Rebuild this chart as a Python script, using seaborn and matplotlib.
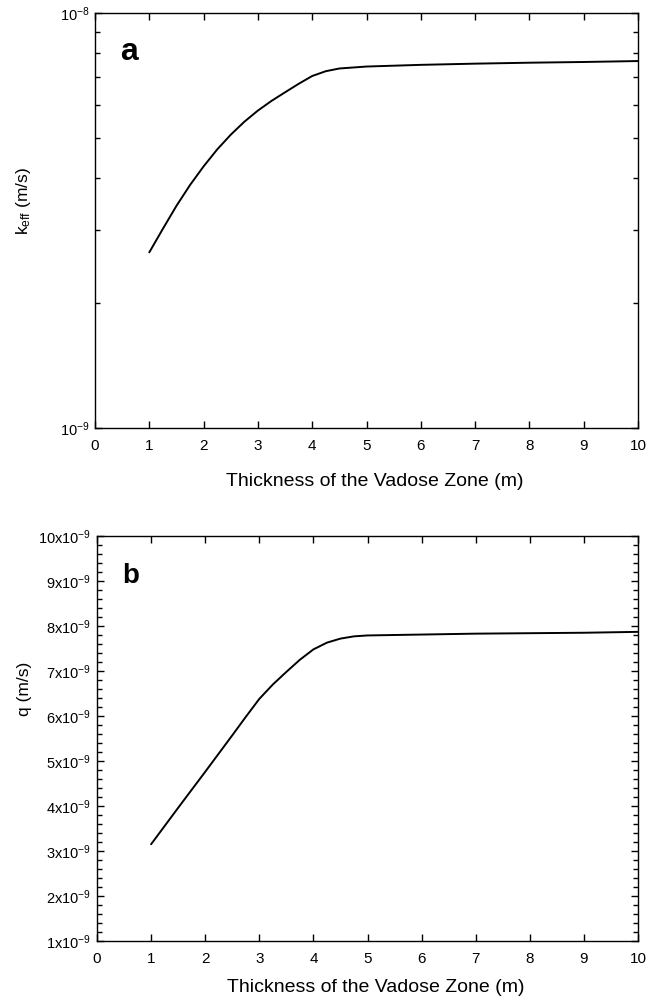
import numpy as np
import pandas as pd
import matplotlib
matplotlib.use("Agg")
import matplotlib.pyplot as plt
import seaborn as sns
from matplotlib.ticker import FixedLocator, FixedFormatter, NullFormatter, MultipleLocator

# ---------------- data ----------------
thickness_a = [1, 1.25, 1.5, 1.75, 2, 2.25, 2.5, 2.75, 3, 3.25, 3.5, 3.75, 4,
               4.25, 4.5, 5, 6, 7, 8, 9, 10]
k_eff = [2.65e-9, 3.02e-9, 3.43e-9, 3.85e-9, 4.27e-9, 4.69e-9, 5.09e-9, 5.47e-9,
         5.82e-9, 6.14e-9, 6.44e-9, 6.75e-9, 7.05e-9, 7.24e-9, 7.35e-9, 7.43e-9,
         7.50e-9, 7.55e-9, 7.59e-9, 7.62e-9, 7.66e-9]

thickness_b = [1, 1.5, 2, 2.5, 2.75, 3, 3.25, 3.5, 3.75, 4, 4.25, 4.5, 4.75, 5,
               6, 7, 8, 9, 10]
q_flux = [3.15e-9, 3.96e-9, 4.76e-9, 5.57e-9, 5.98e-9, 6.38e-9, 6.70e-9, 6.98e-9,
          7.25e-9, 7.48e-9, 7.63e-9, 7.72e-9, 7.77e-9, 7.79e-9, 7.81e-9, 7.83e-9,
          7.84e-9, 7.85e-9, 7.87e-9]

x_ticks = [0, 1, 2, 3, 4, 5, 6, 7, 8, 9, 10]
x_tick_labels = ["0", "1", "2", "3", "4", "5", "6", "7", "8", "9", "10"]

a_yticks = [1e-9, 1e-8]
a_ytick_labels = ["10$^{-9}$", "10$^{-8}$"]
a_yminor = [2e-9, 3e-9, 4e-9, 5e-9, 6e-9, 7e-9, 8e-9, 9e-9]

b_yticks = [1e-9, 2e-9, 3e-9, 4e-9, 5e-9, 6e-9, 7e-9, 8e-9, 9e-9, 10e-9]
b_ytick_labels = ["1x10$^{-9}$", "2x10$^{-9}$", "3x10$^{-9}$", "4x10$^{-9}$", "5x10$^{-9}$",
                  "6x10$^{-9}$", "7x10$^{-9}$", "8x10$^{-9}$", "9x10$^{-9}$", "10x10$^{-9}$"]

xlabel = "Thickness of the Vadose Zone (m)"
ylabel_a = "k$_{\\mathrm{eff}}$ (m/s)"
ylabel_b = "q (m/s)"

df_a = pd.DataFrame({"thickness": thickness_a, "k": k_eff})
df_b = pd.DataFrame({"thickness": thickness_b, "q": q_flux})

# ---------------- style ----------------
sns.set_theme(style="ticks")
plt.rcParams["font.family"] = ["Liberation Sans", "DejaVu Sans"]
plt.rcParams["mathtext.fontset"] = "custom"
plt.rcParams["mathtext.rm"] = "Liberation Sans"
plt.rcParams["mathtext.it"] = "Liberation Sans:italic"
plt.rcParams["mathtext.bf"] = "Liberation Sans:bold"
plt.rcParams["mathtext.default"] = "regular"
for key in ["text.color", "axes.labelcolor", "xtick.color", "ytick.color", "axes.edgecolor"]:
    plt.rcParams[key] = "black"

fig = plt.figure(figsize=(6.59, 10), dpi=100)
ax_a = fig.add_axes([95 / 659, 1 - 428 / 1000, (638 - 95) / 659, (428 - 13) / 1000])
ax_b = fig.add_axes([97 / 659, 1 - 941 / 1000, (638 - 97) / 659, (941 - 536) / 1000])

sns.lineplot(data=df_a, x="thickness", y="k", ax=ax_a, color="black", linewidth=1.4)
sns.lineplot(data=df_b, x="thickness", y="q", ax=ax_b, color="black", linewidth=1.4)


def style_axes(ax):
    ax.set_xlim(0, 10)
    ax.xaxis.set_major_locator(FixedLocator(x_ticks))
    ax.xaxis.set_major_formatter(FixedFormatter(x_tick_labels))
    for s in ax.spines.values():
        s.set_visible(True)
        s.set_linewidth(1.0)
        s.set_color("black")
    ax.tick_params(which="both", direction="in", top=True, right=True,
                   color="black", width=1.0, labelcolor="black")
    ax.tick_params(which="major", length=5)
    ax.tick_params(which="minor", length=3.5)
    ax.tick_params(axis="x", which="major", labelsize=11, pad=8)
    ax.tick_params(axis="y", which="major", labelsize=10.5, pad=4)
    ax.set_xlabel(xlabel, fontsize=14, color="black")
    ax.grid(False)


# panel a
ax_a.set_yscale("log")
ax_a.set_ylim(1e-9, 1e-8)
ax_a.yaxis.set_major_locator(FixedLocator(a_yticks))
ax_a.yaxis.set_major_formatter(FixedFormatter(a_ytick_labels))
ax_a.yaxis.set_minor_locator(FixedLocator(a_yminor))
ax_a.yaxis.set_minor_formatter(NullFormatter())
style_axes(ax_a)
ax_a.set_ylabel(ylabel_a, fontsize=12.5, color="black")
ax_a.yaxis.set_label_coords(-0.115, 0.547)
ax_a.xaxis.set_label_coords(0.515, -0.108)
ax_a.text(0.046, 0.887, "a", transform=ax_a.transAxes, fontsize=23,
          fontweight="bold", va="baseline", ha="left", color="black")

# panel b
ax_b.set_ylim(1e-9, 10e-9)
ax_b.yaxis.set_major_locator(FixedLocator(b_yticks))
ax_b.yaxis.set_major_formatter(FixedFormatter(b_ytick_labels))
ax_b.yaxis.set_minor_locator(MultipleLocator(0.2e-9))
ax_b.yaxis.set_minor_formatter(NullFormatter())
style_axes(ax_b)
ax_b.set_ylabel(ylabel_b, fontsize=12.5, color="black")
ax_b.yaxis.set_label_coords(-0.12, 0.622)
ax_b.xaxis.set_label_coords(0.515, -0.095)
ax_b.text(0.046, 0.884, "b", transform=ax_b.transAxes, fontsize=20,
          fontweight="bold", va="baseline", ha="left", color="black")

fig.savefig("out.png", dpi=100)
